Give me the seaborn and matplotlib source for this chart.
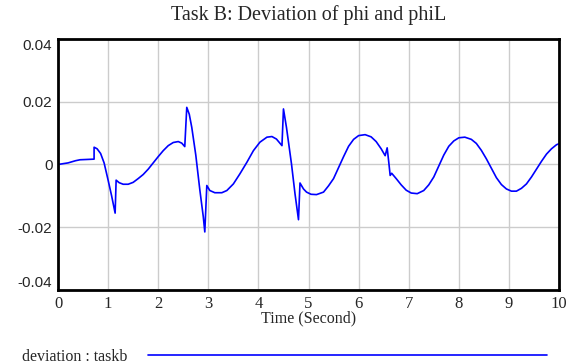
import numpy as np
import pandas as pd
import matplotlib
matplotlib.use("Agg")
import matplotlib.pyplot as plt
import seaborn as sns

# time (s) and deviation
time = [0.00, 0.20, 0.35, 0.44, 0.72, 0.72, 0.78, 0.85, 0.92, 1.00, 1.07,
        1.14, 1.16, 1.22, 1.30, 1.40, 1.50, 1.60, 1.70, 1.80, 1.90, 2.00,
        2.10, 2.20, 2.30, 2.40, 2.47, 2.53, 2.57, 2.62, 2.67, 2.75, 2.83,
        2.90, 2.93, 2.97, 3.03, 3.13, 3.27, 3.37, 3.50, 3.63, 3.77, 3.90,
        4.03, 4.17, 4.27, 4.36, 4.47, 4.50, 4.56, 4.66, 4.73, 4.80, 4.83,
        4.90, 4.96, 5.05, 5.16, 5.30, 5.40, 5.50, 5.60, 5.70, 5.80, 5.90,
        6.00, 6.13, 6.25, 6.35, 6.45, 6.53, 6.57, 6.60, 6.63, 6.66, 6.75,
        6.85, 6.95, 7.05, 7.17, 7.30, 7.40, 7.50, 7.60, 7.70, 7.80, 7.90,
        8.00, 8.12, 8.25, 8.35, 8.45, 8.55, 8.65, 8.75, 8.85, 8.95, 9.05,
        9.15, 9.25, 9.35, 9.45, 9.55, 9.65, 9.75, 9.85, 9.95, 10.00]
deviation = [0.0000, 0.0005, 0.0012, 0.0015, 0.0017, 0.0055, 0.0050, 0.0035,
             0.0005, -0.0050, -0.0100, -0.0155, -0.0050, -0.0058, -0.0063,
             -0.0063, -0.0057, -0.0045, -0.0032, -0.0015, 0.0005, 0.0025,
             0.0044, 0.0060, 0.0070, 0.0073, 0.0068, 0.0057, 0.0182, 0.0160,
             0.0118, 0.0030, -0.0080, -0.0167, -0.0215, -0.0067, -0.0083,
             -0.0090, -0.0090, -0.0083, -0.0062, -0.0030, 0.0007, 0.0044,
             0.0071, 0.0087, 0.0089, 0.0081, 0.0060, 0.0177, 0.0118, 0.0002,
             -0.0093, -0.0176, -0.0059, -0.0078, -0.0088, -0.0095, -0.0096,
             -0.0088, -0.0068, -0.0045, -0.0010, 0.0025, 0.0058, 0.0080,
             0.0092, 0.0095, 0.0088, 0.0073, 0.0050, 0.0028, 0.0053, 0.0010,
             -0.0035, -0.0028, -0.0045, -0.0065, -0.0082, -0.0091, -0.0093,
             -0.0083, -0.0065, -0.0040, -0.0005, 0.0030, 0.0058, 0.0075,
             0.0085, 0.0087, 0.0080, 0.0067, 0.0045, 0.0018, -0.0012, -0.0042,
             -0.0064, -0.0078, -0.0085, -0.0085, -0.0076, -0.0062, -0.0040,
             -0.0015, 0.0010, 0.0033, 0.0050, 0.0063, 0.0066]
x_ticks = list(range(0, 11))
y_ticks = [-0.04, -0.02, 0, 0.02, 0.04]
y_labels = ["-0.04", "-0.02", "0", "0.02", "0.04"]

df = pd.DataFrame({"time": time, "deviation": deviation})

sns.set_style("whitegrid")
plt.rcParams["font.family"] = ["Liberation Serif", "DejaVu Serif"]

fig = plt.figure(figsize=(5.71, 3.64), dpi=100)
ax = fig.add_axes([0.1016, 0.2033, 0.8774, 0.6897])

sns.lineplot(data=df, x="time", y="deviation", color="#0000ff", linewidth=1.2,
             sort=False, estimator=None, ax=ax, label="deviation : taskb")

ax.set_xlim(0, 10)
ax.set_ylim(-0.04, 0.04)
ax.set_xticks(x_ticks)
ax.set_xticklabels([str(t) for t in x_ticks], fontsize=12)
ax.set_yticks(y_ticks)
ylabs = ax.set_yticklabels(y_labels, fontsize=11, family="Liberation Sans")
ylabs[0].set_va("bottom")
ylabs[-1].set_va("top")
ax.tick_params(length=0, pad=4)
ax.grid(True, color="#cccccc", linewidth=1)
for s in ax.spines.values():
    s.set_color("black")
    s.set_linewidth(2)

ax.set_xlabel("Time (Second)", fontsize=11.5, labelpad=-1)
ax.set_ylabel("")
ax.set_title("Task B: Deviation of phi and phiL", fontsize=14.5, pad=14)

ax.legend(loc="upper left", bbox_to_anchor=(-0.085, -0.208), frameon=False,
          markerfirst=False, handlelength=25, handletextpad=1.3,
          fontsize=11.5, borderaxespad=0)

fig.savefig("out.png", dpi=100)
